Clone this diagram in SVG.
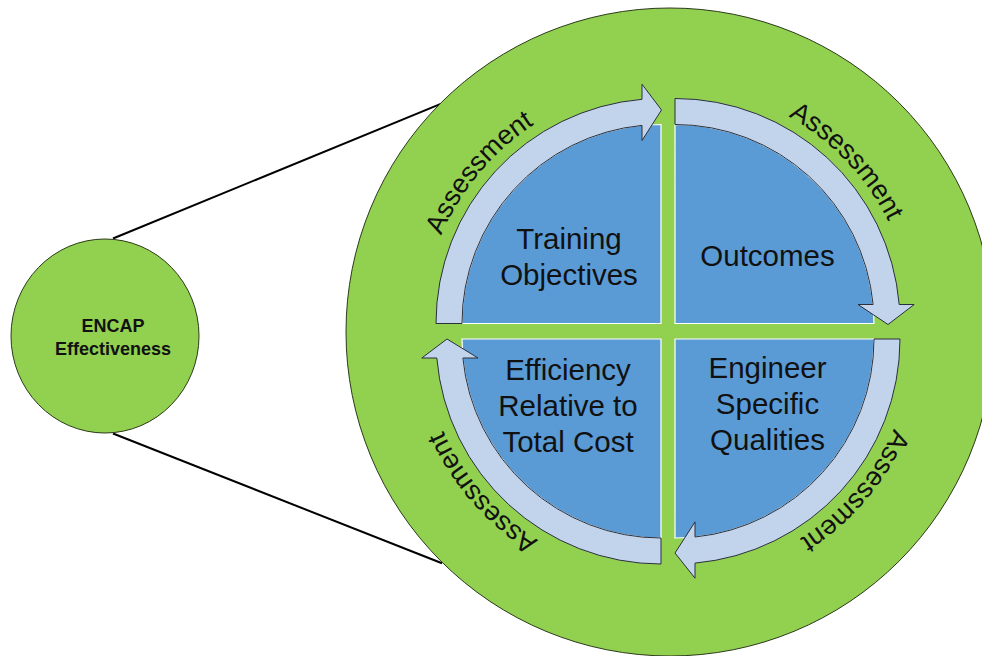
<svg xmlns="http://www.w3.org/2000/svg" width="982" height="656" viewBox="0 0 982 656">
<style>
.green{fill:#92D050;stroke:#2b3a1a;stroke-width:1}
.quad{fill:#5B9BD5;stroke:#ffffff;stroke-width:1.2}
.band{fill:#C2D4EC;stroke:#2a2f3a;stroke-width:1}
.lbl{font-family:"Liberation Sans",Arial,sans-serif;font-size:29.5px;fill:#111111;text-anchor:middle}
.enc{font-family:"Liberation Sans",Arial,sans-serif;font-size:18px;font-weight:bold;fill:#111111;text-anchor:middle}
.asm{font-family:"Liberation Sans",Arial,sans-serif;font-size:27px;fill:#111111;text-anchor:middle}
.conn{stroke:#000000;stroke-width:2;fill:none}
</style>
<defs>
<path id="ring" d="M 914 331 A 246 246 0 1 1 422 331 A 246 246 0 1 1 914 331"/>
</defs>
<rect width="982" height="656" fill="#ffffff"/>
<g id="connectors">
<line class="conn" x1="113" y1="238.5" x2="442" y2="103.3"/>
<line class="conn" x1="113" y1="433.5" x2="442" y2="563.3"/>
</g>
<g id="encap">
<ellipse class="green" cx="105" cy="336" rx="94" ry="97"/>
<text class="enc" x="113" y="331.5">ENCAP</text>
<text class="enc" x="113" y="355">Effectiveness</text>
</g>
<g id="cycle">
<circle class="green" cx="670" cy="332" r="324"/>
</g>
<g id="training">
<path class="quad" d="M 661 323.5 L 462 323.5 A 199 199 0 0 1 661 124.5 Z"/>
<path class="band" d="M 436 323.5 A 225 225 0 0 1 642 99.3 L 642 84.2 L 661.5 110 L 642 140.5 L 642 125.4 A 199 199 0 0 0 462 323.5 Z"/>
<text class="lbl" x="569" y="249">Training</text>
<text class="lbl" x="569" y="285">Objectives</text>
</g>
<g id="outcomes">
<path class="quad" d="M 675 323.5 L 675 124.5 A 199 199 0 0 1 874 323.5 Z"/>
<path class="band" d="M 675 98.5 A 225 225 0 0 1 899.2 304.5 L 914.2 304.5 L 888 324.5 L 858 304.5 L 873.1 304.5 A 199 199 0 0 0 675 124.5 Z"/>
<text class="lbl" x="767.5" y="266">Outcomes</text>
</g>
<g id="engineer">
<path class="quad" d="M 675 339 L 874 339 A 199 199 0 0 1 675 538 Z"/>
<path class="band" d="M 900 339 A 225 225 0 0 1 695 563.1 L 695 578.2 L 675 553 L 695 521.9 L 695 537 A 199 199 0 0 0 874 339 Z"/>
<text class="lbl" x="767.5" y="378">Engineer</text>
<text class="lbl" x="767.5" y="414">Specific</text>
<text class="lbl" x="767.5" y="450">Qualities</text>
</g>
<g id="efficiency">
<path class="quad" d="M 661 339 L 661 538 A 199 199 0 0 1 462 339 Z"/>
<path class="band" d="M 661 564 A 225 225 0 0 1 436.8 358 L 421.8 358 L 447 339 L 478 358 L 462.9 358 A 199 199 0 0 0 661 538 Z"/>
<text class="lbl" x="568" y="379.5">Efficiency</text>
<text class="lbl" x="568" y="415.5">Relative to</text>
<text class="lbl" x="568" y="451.5">Total Cost</text>
</g>
<g id="assessment-labels">
<text class="asm"><textPath href="#ring" startOffset="11.25%">Assessment</textPath></text>
<text class="asm"><textPath href="#ring" startOffset="38.6%">Assessment</textPath></text>
<text class="asm"><textPath href="#ring" startOffset="61.1%">Assessment</textPath></text>
<text class="asm"><textPath href="#ring" startOffset="87.9%">Assessment</textPath></text>
</g>
</svg>
